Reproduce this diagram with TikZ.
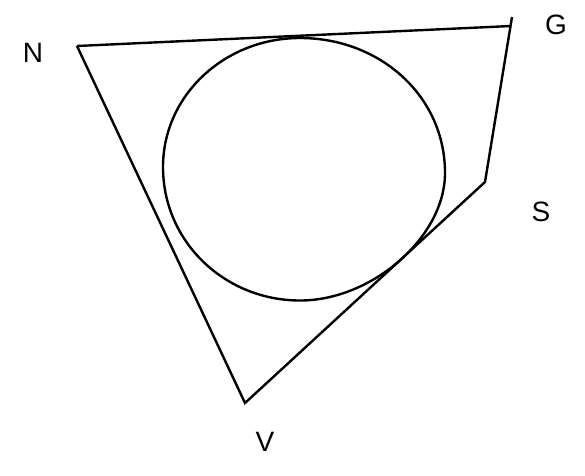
\documentclass[tikz,border=0pt]{standalone}
\usepackage{fontspec}
\setmainfont{Liberation Sans}
\usetikzlibrary{positioning}

\begin{document}
\begin{tikzpicture}[x=1pt, y=-1pt,
		side/.style={line width=2.4pt, black},
		vlabel/.style={font=\fontsize{28}{28}\selectfont}]
		\useasboundingbox (0,0) rectangle (585,475);
		% corners of the quadrilateral
		\coordinate (N) at (77,46);
		\coordinate (G) at (511,26);
		\coordinate (Gtop) at (512,17);
		\coordinate (S) at (485,182);
		\coordinate (V) at (245,403);
		\draw[side] (N) -- (G);
		\draw[side] (Gtop) -- (S) -- (V) -- (N);
		% inscribed circle, a little flat where it meets SV
		\draw[side] (300,38) .. controls (380,38) and (445,96) .. (445,173)
			.. controls (445,237) and (372,300.5) .. (300,300.5)
			.. controls (225,300.5) and (163,242) .. (163,167)
			.. controls (163,95) and (225,38) .. cycle;
		% labels
		\node[vlabel] (nlab) at (33,53) {N};
		\node[vlabel] (glab) at (556,25) {G};
		\node[vlabel] (slab) at (541,212) {S};
		\node[vlabel] (vlab) at (265,442) {V};
	\end{tikzpicture}
\end{document}
